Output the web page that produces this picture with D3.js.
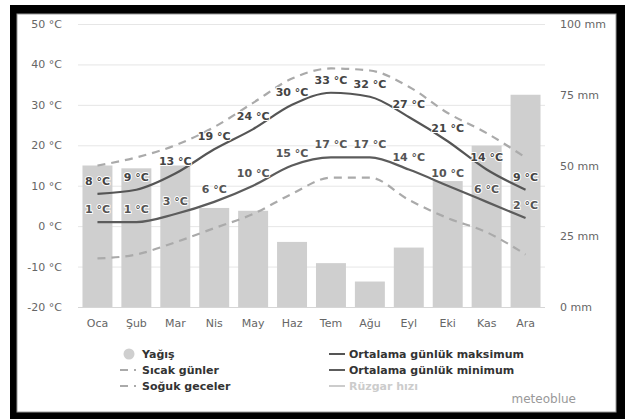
<!DOCTYPE html>
<html><head><meta charset="utf-8">
<script src="https://cdn.jsdelivr.net/npm/d3@7"></script>
<style>
body{margin:0;background:#fff}
svg{display:block;font-family:'DejaVu Sans',sans-serif}
</style>
</head><body><svg id="c" width="625" height="419"></svg>
<script>
const months = ["Oca","Şub","Mar","Nis","May","Haz","Tem","Ağu","Eyl","Eki","Kas","Ara"];
const precipitation = [50,49,50,35,34,23,15.5,9,21,44.5,57,75];
const maxTemp = [8,9,13,19,24,30,33,32,27,21,14,9];
const minTemp = [1,1,3,6,10,15,17,17,14,10,6,2];
const hotDays = [15,17,20,24.5,30.5,36.5,39,38.5,34.5,28,23,17];
const coldNights = [-8,-7,-4,-0.5,3,8,12,12,6.5,2,-1.5,-7];
const tempTicks = [-20,-10,0,10,20,30,40,50];
const precipTicks = [0,25,50,75,100];
const legendLeft = ["Yağış","Sıcak günler","Soğuk geceler"];
const legendRight = ["Ortalama günlük maksimum","Ortalama günlük minimum","Rüzgar hızı"];
const credit = "meteoblue";

const svg = d3.select("#c");
// frame
svg.append("rect").attr("x",10).attr("y",5).attr("width",615).attr("height",420).attr("fill","#000");
svg.append("rect").attr("x",17).attr("y",14).attr("width",599).attr("height",398).attr("fill","#fff").attr("stroke","#9a9a9a").attr("stroke-width",1);

const L = 78, R = 545, T = 24, B = 307;
const x = d3.scaleBand().domain(months).range([L,R]);
const yT = d3.scaleLinear().domain([-20,50]).range([B,T]);
const yP = d3.scaleLinear().domain([0,100]).range([B,T]);
const cx = m => x(m) + x.bandwidth()/2;

// grid
svg.append("g").selectAll("line").data(tempTicks).join("line")
  .attr("x1",L).attr("x2",R).attr("y1",d=>yT(d)+0.5).attr("y2",d=>yT(d)+0.5)
  .attr("stroke",d=>d===-20?"#d6d6d6":"#e6e6e6").attr("stroke-width",1);

// axes
function styleAxis(g){
  g.select(".domain").remove();
  g.selectAll("text").attr("fill","#666").attr("font-size","11px").attr("font-family","'DejaVu Sans',sans-serif");
}
svg.append("g").attr("transform",`translate(${L},0)`)
  .call(d3.axisLeft(yT).tickValues(tempTicks).tickFormat(d=>d+" °C").tickSize(0).tickPadding(16))
  .call(styleAxis);
svg.append("g").attr("transform",`translate(${R},0)`)
  .call(d3.axisRight(yP).tickValues(precipTicks).tickFormat(d=>d+" mm").tickSize(0).tickPadding(15))
  .call(styleAxis);
svg.append("g").attr("transform",`translate(0,${B})`)
  .call(d3.axisBottom(x).tickSize(0).tickPadding(12))
  .call(styleAxis);

// bars
const bw = x.bandwidth()*0.77;
svg.append("g").selectAll("rect").data(precipitation).join("rect")
  .attr("x",(d,i)=>cx(months[i])-bw/2).attr("width",bw)
  .attr("y",d=>yP(d)).attr("height",d=>yP(0)-yP(d))
  .attr("fill","#cfcfcf");

// lines
const line = d3.line().x((d,i)=>cx(months[i])).y(d=>yT(d)).curve(d3.curveMonotoneX);
function addLine(data,color,dash){
  svg.append("path").datum(data).attr("d",line).attr("fill","none")
    .attr("stroke",color).attr("stroke-width",2.2)
    .attr("stroke-dasharray",dash||null);
}
addLine(hotDays,"#aaaaaa","8,6");
addLine(coldNights,"#aaaaaa","8,6");
addLine(maxTemp,"#555555");
addLine(minTemp,"#5c5c5c");

// labels
function addLabels(data,color){
  svg.append("g").selectAll("text").data(data).join("text")
    .attr("x",(d,i)=>cx(months[i])).attr("y",d=>yT(d)-9)
    .attr("text-anchor","middle").attr("font-size","11px").attr("font-weight","bold")
    .attr("fill",color).attr("stroke","#fff").attr("stroke-width",2)
    .attr("stroke-linejoin","round").attr("paint-order","stroke")
    .text(d=>d+" °C");
}
addLabels(maxTemp,"#444");
addLabels(minTemp,"#555");

// legend
const rows = [354,370,386];
const lg = svg.append("g").attr("font-size","11px").attr("font-weight","bold");
// left column
lg.append("circle").attr("cx",129).attr("cy",rows[0]).attr("r",5.5).attr("fill","#cfcfcf");
[1,2].forEach(r=>{
  lg.append("line").attr("x1",120).attr("x2",136).attr("y1",rows[r]).attr("y2",rows[r])
    .attr("stroke","#aaaaaa").attr("stroke-width",2).attr("stroke-dasharray","8,6");
});
lg.selectAll("text.l").data(legendLeft).join("text").attr("class","l")
  .attr("x",142).attr("y",(d,i)=>rows[i]).attr("dy","0.35em").attr("fill","#333").text(d=>d);
// right column
const rc = ["#555555","#5c5c5c","#cccccc"];
legendRight.forEach((t,i)=>{
  lg.append("line").attr("x1",329).attr("x2",345).attr("y1",rows[i]).attr("y2",rows[i])
    .attr("stroke",rc[i]).attr("stroke-width",2);
  lg.append("text").attr("x",349).attr("y",rows[i]).attr("dy","0.35em")
    .attr("fill",i===2?"#cccccc":"#333").text(t);
});
svg.append("text").attr("x",576).attr("y",403).attr("text-anchor","end")
  .attr("font-size","12px").attr("fill","#999").text(credit);
</script>
</body></html>
